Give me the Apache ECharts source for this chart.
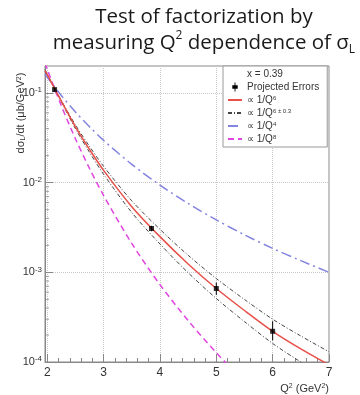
<!DOCTYPE html>
<html>
<head>
<meta charset="utf-8">
<script src="https://cdn.jsdelivr.net/npm/echarts@6/dist/echarts.min.js"></script>
<style>
  html, body { margin: 0; padding: 0; background: #fff; }
  #chart { width: 360px; height: 395px; }
</style>
</head>
<body>
<div id="chart"></div>
<script>
// Q^2 sample positions (GeV^2) shared by the model curves
const q2Grid = [1.96, 2.0, 2.25, 2.5, 2.75, 3.0, 3.5, 4.0, 4.5, 5.0, 5.5, 6.0, 6.5, 7.0];

// curves, dsigma_L/dt in ub/GeV^2
const curveQ6 = [0.178, 0.160, 0.081, 0.042, 0.0235, 0.0137, 5.4e-3, 2.5e-3, 1.24e-3, 6.6e-4, 3.75e-4, 2.2e-4, 1.40e-4, 0.93e-4];
const bandUpper = [0.1736, 0.157, 0.0823, 0.0441, 0.0254, 0.0152, 6.27e-3, 3.02e-3, 1.55e-3, 8.53e-4, 4.98e-4, 3.0e-4, 1.95e-4, 1.30e-4];
const bandLower = [0.1825, 0.163, 0.0797, 0.0400, 0.0218, 0.0124, 4.65e-3, 2.07e-3, 9.9e-4, 5.11e-4, 2.82e-4, 1.61e-4, 1.0e-4, 0.65e-4];
const curveQ4 = [0.1626, 0.150, 0.0937, 0.0615, 0.0420, 0.0296, 0.0160, 0.0094, 0.00586, 0.00384, 0.00262, 0.00185, 0.00135, 0.0010];
const curveQ8 = [0.217, 0.184, 0.0719, 0.0309, 0.0144, 7.2e-3, 2.1e-3, 7.3e-4, 2.9e-4, 1.27e-4, 6.0e-5, 2.9e-5, 1.5e-5, 8.2e-6];

// projected points with error bars
const errQ2 = [2.13, 3.85, 5.0, 6.0];
const errVal = [0.109, 3.08e-3, 6.6e-4, 2.2e-4];
const errLow = [0.104, 2.87e-3, 5.6e-4, 1.74e-4];
const errHigh = [0.114, 3.3e-3, 7.7e-4, 2.85e-4];

// log-axis minor tick positions
const yMinorTicks = [
  2e-4, 3e-4, 4e-4, 5e-4, 6e-4, 7e-4, 8e-4, 9e-4,
  2e-3, 3e-3, 4e-3, 5e-3, 6e-3, 7e-3, 8e-3, 9e-3,
  2e-2, 3e-2, 4e-2, 5e-2, 6e-2, 7e-2, 8e-2, 9e-2
];

const xMin = 1.96;
const xMax = 7;
const yMin = 1e-4;
const yMax = 0.2;

const names = {
  head: 'x = 0.39',
  pts: 'Projected Errors',
  q6: '∝ 1/Q^6',
  band: '∝ 1/Q^6 ± 0.3',
  q4: '∝ 1/Q^4',
  q8: '∝ 1/Q^8'
};

const pair = (xs, ys) => xs.map((x, i) => [x, ys[i]]);

const chart = echarts.init(document.getElementById('chart'));

const font = 'Liberation Sans, Arial, sans-serif';
const titleFont = 'Open Sans, sans-serif';

chart.setOption({
  animation: false,
  title: {
    text: 'Test of factorization by\nmeasuring Q{sup|2} dependence of σ{sub|L}',
    left: 199,
    top: -1,
    textAlign: 'center',
    textStyle: {
      fontFamily: titleFont,
      fontSize: 20.5,
      fontWeight: 'normal',
      color: '#1a1a1a',
      lineHeight: 26,
      rich: {
        sup: { fontFamily: titleFont, fontSize: 12, verticalAlign: 'top', lineHeight: 26, color: '#1a1a1a' },
        sub: { fontFamily: titleFont, fontSize: 12, verticalAlign: 'bottom', lineHeight: 22, color: '#1a1a1a' }
      }
    }
  },
  legend: {
    orient: 'vertical',
    left: 223,
    top: 66,
    padding: [3, 8, 3, 4],
    itemGap: 3,
    itemWidth: 14,
    itemHeight: 9,
    backgroundColor: '#fff',
    borderColor: '#999',
    borderWidth: 1,
    selectedMode: false,
    itemStyle: { opacity: 0 },
    textStyle: {
      fontFamily: font,
      fontSize: 10,
      color: '#333',
      rich: {
        sup: { fontFamily: font, fontSize: 6, verticalAlign: 'top', color: '#333' }
      }
    },
    formatter: (n) => n.replace(/\^(.+)$/, '{sup|$1}'),
    data: [
      { name: names.head, icon: 'rect', itemStyle: { opacity: 0 } },
      {
        name: names.pts,
        icon: 'path://M4.5,0h1v3h2.5v4h-2.5v3h-1v-3h-2.5v-4h2.5z',
        itemStyle: { opacity: 1, color: '#000' }
      },
      names.q6, names.band, names.q4, names.q8
    ]
  },
  grid: {
    left: 45, right: 31, top: 66, bottom: 33,
    show: true, borderColor: '#888', borderWidth: 1, backgroundColor: 'transparent'
  },
  xAxis: {
    type: 'value',
    min: xMin,
    max: xMax,
    axisLine: { lineStyle: { color: '#888' } },
    axisTick: { inside: true, length: 8, lineStyle: { color: '#888' } },
    minorTick: { show: true, splitNumber: 5, length: 4, lineStyle: { color: '#888' } },
    splitLine: { show: true, lineStyle: { color: '#c8c8c8', type: 'dotted' } },
    axisLabel: {
      showMinLabel: false,
      fontFamily: font, fontSize: 12, color: '#333', margin: 5
    },
    name: 'Q{sup|2} (GeV{sup|2})',
    nameLocation: 'end',
    nameGap: 0,
    nameTextStyle: {
      fontFamily: font, fontSize: 11, color: '#333',
      align: 'right', verticalAlign: 'top', padding: [21, 0, 0, 0],
      rich: { sup: { fontFamily: font, fontSize: 7, verticalAlign: 'top', color: '#333' } }
    }
  },
  yAxis: {
    type: 'log',
    logBase: 10,
    min: yMin,
    max: yMax,
    axisLine: { lineStyle: { color: '#888' } },
    axisTick: { inside: true, length: 8, lineStyle: { color: '#888' } },
    splitLine: { show: true, lineStyle: { color: '#c8c8c8', type: 'dotted' } },
    axisLabel: {
      showMaxLabel: false,
      margin: 3,
      fontFamily: font, fontSize: 11, color: '#333',
      formatter: (v) => {
        const e = Math.round(Math.log10(v));
        if (Math.abs(Math.log10(v) - e) > 1e-6) return '';
        return '10{sup|' + e + '}';
      },
      rich: { sup: { fontFamily: font, fontSize: 8, verticalAlign: 'top', color: '#333', padding: [0, 0, 6, 0] } }
    }
  },
  graphic: [{
    type: 'text',
    x: 21,
    y: 113,
    rotation: Math.PI / 2,
    style: {
      text: 'dσ{sub|L}/dt (μb/GeV{sup|2})',
      fontFamily: font,
      fontSize: 11,
      fill: '#333',
      align: 'center',
      verticalAlign: 'middle',
      rich: {
        sub: { fontFamily: font, fontSize: 7, verticalAlign: 'bottom', fill: '#333' },
        sup: { fontFamily: font, fontSize: 7, verticalAlign: 'top', fill: '#333' }
      }
    }
  }],
  series: [
    { name: names.head, type: 'line', data: [] },
    {
      name: 'yMinor', type: 'scatter', silent: true, clip: false,
      symbol: 'rect', symbolSize: [4, 1], symbolOffset: [2, 0],
      itemStyle: { color: '#888' },
      data: yMinorTicks.map((v) => [xMin, v]), z: 1
    },
    {
      name: names.q8, type: 'line', symbol: 'none', smooth: 0.3,
      lineStyle: { color: '#e045e0', width: 1.5, type: [6, 4] },
      itemStyle: { color: '#e045e0' },
      data: pair(q2Grid, curveQ8)
    },
    {
      name: names.q4, type: 'line', symbol: 'none', smooth: 0.3,
      lineStyle: { color: '#8383e0', width: 1.5, type: [10, 4, 2, 4] },
      itemStyle: { color: '#8383e0' },
      data: pair(q2Grid, curveQ4)
    },
    {
      name: names.band, type: 'line', symbol: 'none', smooth: 0.3,
      lineStyle: { color: '#444', width: 1, type: [4, 2, 1, 2] },
      itemStyle: { color: '#444' },
      data: pair(q2Grid, bandUpper)
    },
    {
      name: names.band, type: 'line', symbol: 'none', smooth: 0.3,
      lineStyle: { color: '#444', width: 1, type: [4, 2, 1, 2] },
      itemStyle: { color: '#444' },
      data: pair(q2Grid, bandLower)
    },
    {
      name: names.q6, type: 'line', symbol: 'none', smooth: 0.3,
      lineStyle: { color: '#e8504a', width: 1.5 },
      itemStyle: { color: '#e8504a' },
      data: pair(q2Grid, curveQ6)
    },
    {
      name: names.pts, type: 'custom',
      renderItem: (params, api) => {
        const lo = api.coord([api.value(0), api.value(1)]);
        const hi = api.coord([api.value(0), api.value(2)]);
        return {
          type: 'line',
          shape: { x1: lo[0], y1: lo[1], x2: hi[0], y2: hi[1] },
          style: { stroke: '#000', lineWidth: 1 }
        };
      },
      itemStyle: { color: '#000' },
      data: errQ2.map((x, i) => [x, errLow[i], errHigh[i]]),
      z: 5
    },
    {
      name: names.pts, type: 'scatter', symbol: 'rect', symbolSize: 5,
      itemStyle: { color: '#000' },
      data: pair(errQ2, errVal),
      z: 6
    }
  ]
});
</script>
</body>
</html>
